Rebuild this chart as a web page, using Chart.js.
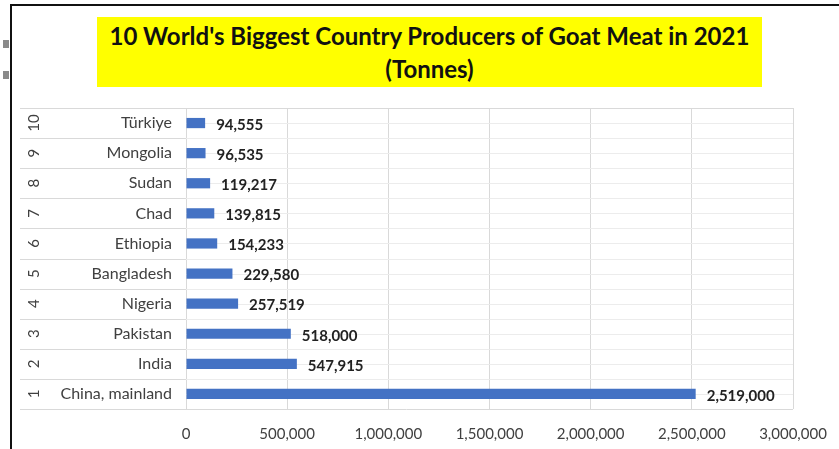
<!DOCTYPE html>
<html>
<head>
<meta charset="utf-8">
<script src="https://cdn.jsdelivr.net/npm/chart.js@4.4.1/dist/chart.umd.min.js"></script>
<style>
    html, body { margin: 0; padding: 0; background: #fff; }
    #wrap { position: relative; width: 839px; height: 449px; overflow: hidden; }
    #frame { position: absolute; left: 10px; top: 4px; width: 840px; height: 460px;
        border-left: 2px solid #111; border-top: 2px solid #111; }
    .handle { position: absolute; left: 3px; width: 6px; height: 8px; background: #8a8a8a; }
    #title { position: absolute; left: 97px; top: 17px; width: 665px; height: 70px;
        background: #ffff00; color: #111; font: bold 24px Lato, "Open Sans", sans-serif;
        text-align: center; line-height: 33px; padding-top: 2px; box-sizing: border-box; }
    #c { position: absolute; left: 0; top: 0; }
</style>
</head>
<body>
<div id="wrap">
    <div id="frame"></div>
    <div class="handle" style="top:40px"></div>
    <div class="handle" style="top:71px"></div>
    <canvas id="c" width="839" height="449"></canvas>
    <div id="title">10 World's Biggest Country Producers of Goat Meat in 2021<br>(Tonnes)</div>
</div>
<script>
const ranks = ['1', '2', '3', '4', '5', '6', '7', '8', '9', '10']
const countries = ['China, mainland', 'India', 'Pakistan', 'Nigeria', 'Bangladesh',
    'Ethiopia', 'Chad', 'Sudan', 'Mongolia', 'Türkiye']
const tonnes = [2519000, 547915, 518000, 257519, 229580, 154233, 139815, 119217, 96535, 94555]
const xTicks = [0, 500000, 1000000, 1500000, 2000000, 2500000, 3000000]

const fontFamily = 'Lato, "Open Sans", sans-serif'
const textColor = '#404040'

// rank column, row dividers and faint sheet lines
const categoryPlugin = {
    id: 'categoryPlugin',
    beforeDatasetsDraw(chart) {
        const { ctx, chartArea: a } = chart
        ctx.save()
        ctx.strokeStyle = '#ececec'
        ctx.lineWidth = 1
        const step = (a.bottom - a.top) / ranks.length / 2
        for (let i = 1; i < ranks.length * 2; i++) {
            const yy = Math.round(a.top + i * step) + 0.5
            ctx.beginPath(); ctx.moveTo(a.left, yy); ctx.lineTo(a.right, yy); ctx.stroke()
        }
        ctx.restore()
    },
    afterDraw(chart) {
        const { ctx, chartArea: a, scales: { y } } = chart
        ctx.save()
        ctx.strokeStyle = '#d9d9d9'
        ctx.lineWidth = 1
        const half = (a.bottom - a.top) / ranks.length / 2
        ranks.forEach((r, i) => {
            const cy = y.getPixelForValue(i)
            const top = Math.round(cy - half) + 0.5
            ctx.beginPath(); ctx.moveTo(20, top); ctx.lineTo(a.left, top); ctx.stroke()
            ctx.save()
            ctx.translate(34, cy)
            ctx.rotate(-Math.PI / 2)
            ctx.fillStyle = textColor
            ctx.font = '15px ' + fontFamily
            ctx.textAlign = 'center'
            ctx.textBaseline = 'middle'
            ctx.fillText(r, 0, 0)
            ctx.restore()
        })
        const bottom = Math.round(a.bottom) + 0.5
        ctx.beginPath(); ctx.moveTo(20, bottom); ctx.lineTo(a.right, bottom); ctx.stroke()
        const top = Math.round(a.top) + 0.5
        ctx.beginPath(); ctx.moveTo(a.left, top); ctx.lineTo(a.right, top); ctx.stroke()
        ctx.restore()
    }
}

const valueLabels = {
    id: 'valueLabels',
    afterDatasetsDraw(chart) {
        const { ctx } = chart
        ctx.save()
        ctx.fillStyle = '#222'
        ctx.font = 'bold 15px ' + fontFamily
        ctx.textBaseline = 'middle'
        chart.getDatasetMeta(0).data.forEach((bar, i) => {
            ctx.fillText(tonnes[i].toLocaleString('en-US'), bar.x + 11, bar.y + 2)
        })
        ctx.restore()
    }
}

new Chart(document.getElementById('c').getContext('2d'), {
    type: 'bar',
    data: {
        labels: countries,
        datasets: [{
            data: tonnes,
            backgroundColor: '#4472c4',
            borderWidth: 0,
            categoryPercentage: 1,
            barPercentage: 0.34
        }]
    },
    options: {
        indexAxis: 'y',
        responsive: false,
        animation: false,
        layout: { padding: { top: 108, right: 46, left: 0, bottom: 0 } },
        plugins: {
            legend: { display: false },
            tooltip: { enabled: false }
        },
        scales: {
            x: {
                min: 0,
                max: 3000000,
                afterBuildTicks: s => { s.ticks = xTicks.map(v => ({ value: v })) },
                afterFit: s => { s.height = 40; s.paddingRight = 0; s.paddingLeft = 0 },
                border: { display: false },
                grid: { color: '#d9d9d9', drawTicks: false },
                ticks: {
                    padding: 16,
                    color: textColor,
                    font: { family: fontFamily, size: 15 },
                    callback: v => v.toLocaleString('en-US')
                }
            },
            y: {
                reverse: true,
                afterFit: s => { s.width = 186 },
                border: { color: '#d9d9d9' },
                grid: { display: false, drawTicks: false },
                ticks: {
                    padding: 14,
                    color: textColor,
                    font: { family: fontFamily, size: 16 }
                }
            }
        }
    },
    plugins: [categoryPlugin, valueLabels]
})
</script>
</body>
</html>
